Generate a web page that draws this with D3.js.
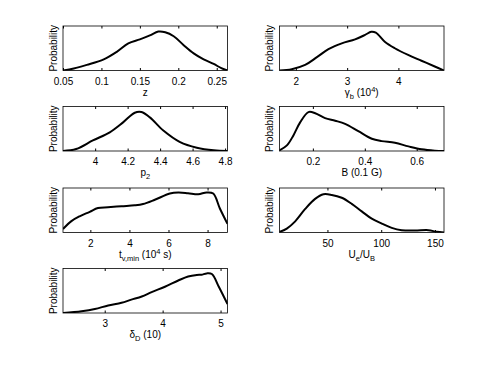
<!DOCTYPE html>
<html>
<head>
<meta charset="utf-8">
<script src="https://cdn.jsdelivr.net/npm/d3@7"></script>
<style>
  html, body { margin: 0; padding: 0; background: #fff; }
  svg text { font-family: "Liberation Sans", Arial, sans-serif; fill: #000; }
</style>
</head>
<body>
<svg id="chart" width="491" height="369"></svg>
<script>
// posterior distributions (relative probability)
const zX = [0.05, 0.064, 0.081, 0.103, 0.12, 0.135, 0.15, 0.163, 0.174, 0.183, 0.194, 0.207, 0.22, 0.233, 0.246, 0.256, 0.264];
const zP = [0, 0.044, 0.126, 0.25, 0.42, 0.61, 0.70, 0.79, 0.875, 0.86, 0.77, 0.57, 0.385, 0.25, 0.148, 0.052, 0];

const gammaX = [1.68, 1.92, 2.18, 2.41, 2.635, 2.895, 3.155, 3.35, 3.47, 3.56, 3.74, 3.93, 4.19, 4.45, 4.71, 4.89];
const gammaP = [0, 0.03, 0.126, 0.30, 0.48, 0.61, 0.70, 0.80, 0.87, 0.85, 0.64, 0.50, 0.35, 0.22, 0.09, 0];

const p2X = [3.802, 3.883, 3.986, 4.09, 4.172, 4.244, 4.285, 4.337, 4.42, 4.523, 4.626, 4.73, 4.815];
const p2P = [0, 0.044, 0.237, 0.42, 0.644, 0.86, 0.875, 0.756, 0.46, 0.2, 0.074, 0.015, 0];

const bX = [0.0715, 0.1, 0.125, 0.151, 0.183, 0.209, 0.247, 0.286, 0.324, 0.375, 0.427, 0.465, 0.516, 0.568, 0.619, 0.67, 0.705];
const bP = [0.015, 0.126, 0.35, 0.644, 0.875, 0.85, 0.74, 0.68, 0.61, 0.444, 0.274, 0.222, 0.185, 0.104, 0.037, 0.007, 0];

const tX = [0.6, 1.03, 1.45, 1.97, 2.39, 2.9, 3.59, 4.27, 4.7, 5.3, 6.07, 6.5, 7.0, 7.52, 7.95, 8.29, 8.63, 9.02];
const tP = [0.078, 0.256, 0.364, 0.465, 0.55, 0.566, 0.59, 0.61, 0.64, 0.736, 0.876, 0.9, 0.884, 0.86, 0.9, 0.876, 0.54, 0.194];

const uX = [5.4, 12.2, 20, 29.3, 38.5, 46.3, 54, 63.3, 72.6, 81.9, 91.2, 100.5, 109.8, 119, 131.5, 143.9, 151.6, 158.4];
const uP = [0.015, 0.089, 0.25, 0.53, 0.756, 0.86, 0.845, 0.78, 0.644, 0.474, 0.31, 0.2, 0.104, 0.052, 0.044, 0.052, 0.015, 0];

const dX = [2.28, 2.6, 2.83, 3.06, 3.29, 3.46, 3.64, 3.81, 4.04, 4.27, 4.44, 4.59, 4.67, 4.76, 4.85, 4.97, 5.12];
const dP = [0, 0.04, 0.09, 0.17, 0.23, 0.3, 0.37, 0.47, 0.59, 0.73, 0.82, 0.855, 0.86, 0.89, 0.876, 0.59, 0.2];

// tick values per panel
const zTicks = [0.05, 0.1, 0.15, 0.2, 0.25];
const gammaTicks = [2, 3, 4];
const p2Ticks = [4, 4.2, 4.4, 4.6, 4.8];
const bTicks = [0.2, 0.4, 0.6];
const tTicks = [2, 4, 6, 8];
const uTicks = [50, 100, 150];
const dTicks = [3, 4, 5];

// axis labels: [text, kind] where kind "sub" / "sup" shifts the piece
const labels = [
  [["z", ""]],
  [["\u03b3", ""], ["b", "sub"], [" (10", ""], ["4", "sup"], [")", ""]],
  [["p", ""], ["2", "sub"]],
  [["B (0.1 G)", ""]],
  [["t", ""], ["v,min", "sub"], [" (10", ""], ["4", "sup"], [" s)", ""]],
  [["U", ""], ["e", "sub"], ["/U", ""], ["B", "sub"]],
  [["\u03b4", ""], ["D", "sub"], [" (10)", ""]]
];

const panels = [
  { x: zX, y: zP, ticks: zTicks, dom: [0.05, 0.264] },
  { x: gammaX, y: gammaP, ticks: gammaTicks, dom: [1.68, 4.89] },
  { x: p2X, y: p2P, ticks: p2Ticks, dom: [3.802, 4.815] },
  { x: bX, y: bP, ticks: bTicks, dom: [0.0715, 0.705] },
  { x: tX, y: tP, ticks: tTicks, dom: [0.6, 9.02] },
  { x: uX, y: uP, ticks: uTicks, dom: [5.4, 158.4] },
  { x: dX, y: dP, ticks: dTicks, dom: [2.28, 5.12] }
];

const svg = d3.select('#chart');
const colLeft = [63, 279.5];
const rowTop = [26, 106.5, 188, 268.5];
const w = 164.5;
const h = 44.5;
const fs = 10;

panels.forEach((p, i) => {
  const left = colLeft[i % 2];
  const top = rowTop[Math.floor(i / 2)];
  const g = svg.append('g').attr('transform', `translate(${left},${top})`);

  const x = d3.scaleLinear().domain(p.dom).range([0, w]);
  const y = d3.scaleLinear().domain([0, 1]).range([h, 0]);

  const clipId = 'clip' + i;
  g.append('clipPath').attr('id', clipId)
    .append('rect').attr('width', w).attr('height', h);

  // bottom axis, ticks pointing inward
  const bottom = g.append('g').attr('transform', `translate(0,${h})`)
    .call(d3.axisBottom(x).tickValues(p.ticks).tickFormat(d3.format('~g'))
      .tickSizeInner(-2.5).tickSizeOuter(0).tickPadding(7));
  bottom.select('.domain').remove();
  bottom.selectAll('line').attr('stroke', '#000');
  bottom.selectAll('text').attr('font-size', fs).attr('dy', '0.71em');

  const topAx = g.append('g')
    .call(d3.axisTop(x).tickValues(p.ticks).tickFormat('')
      .tickSizeInner(-2.5).tickSizeOuter(0));
  topAx.select('.domain').remove();
  topAx.selectAll('line').attr('stroke', '#000');

  g.append('rect').attr('width', w).attr('height', h)
    .attr('fill', 'none').attr('stroke', '#000').attr('stroke-width', 0.8);

  const line = d3.line()
    .x((d, k) => x(p.x[k]))
    .y(d => y(d))
    .curve(d3.curveCatmullRom.alpha(0.5));

  g.append('path').datum(p.y)
    .attr('clip-path', `url(#${clipId})`)
    .attr('d', line)
    .attr('fill', 'none').attr('stroke', '#000').attr('stroke-width', 2)
    .attr('stroke-linejoin', 'round');

  g.append('text')
    .attr('transform', `translate(-6.5,${h / 2}) rotate(-90)`)
    .attr('text-anchor', 'middle').attr('font-size', fs)
    .text('Probability');

  const t = g.append('text')
    .attr('x', w / 2).attr('y', h + 25)
    .attr('text-anchor', 'middle').attr('font-size', fs);
  labels[i].forEach(([s, kind]) => {
    const span = t.append('tspan').text(s);
    if (kind === 'sub') span.attr('font-size', 7.5).attr('baseline-shift', '-35%');
    if (kind === 'sup') span.attr('font-size', 7.5).attr('baseline-shift', '45%');
  });
});
</script>
</body>
</html>
